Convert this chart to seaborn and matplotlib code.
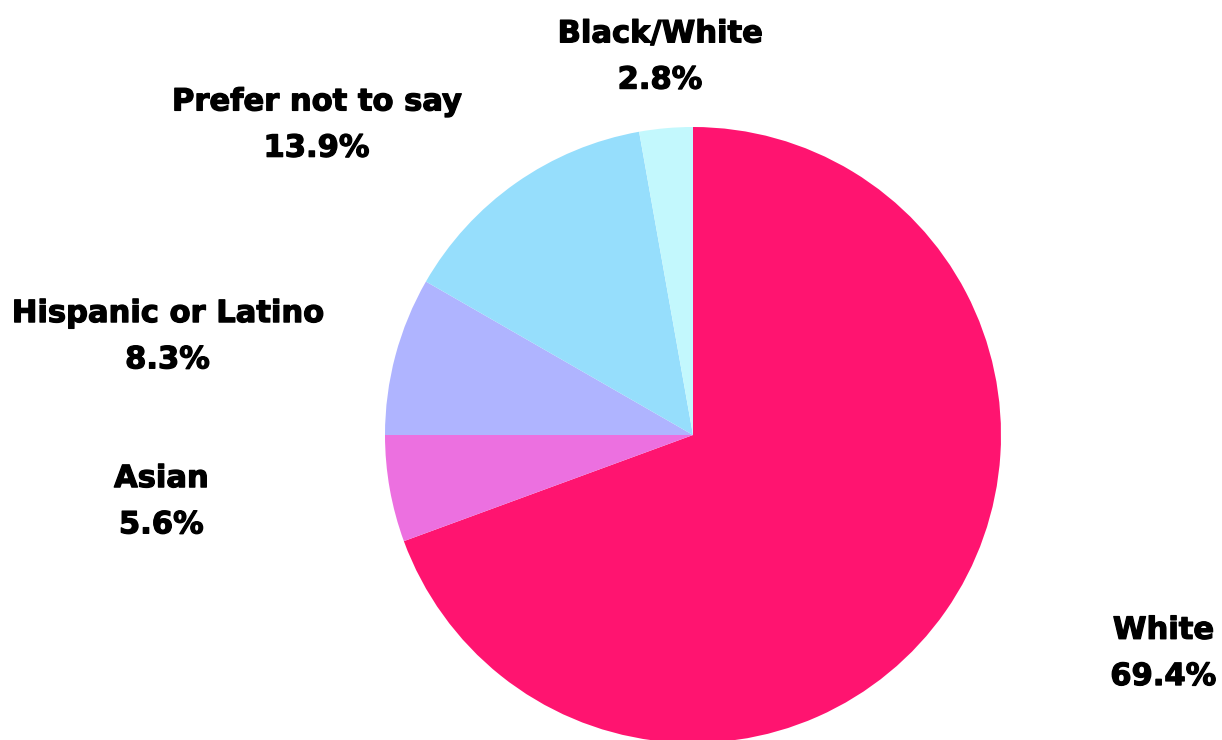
import matplotlib
matplotlib.use("Agg")
import matplotlib.pyplot as plt
import matplotlib.patheffects as pe
import seaborn as sns

# Survey breakdown by ethnicity (share of respondents, %)
categories = ["White", "Asian", "Hispanic or Latino", "Prefer not to say", "Black/White"]
shares = [69.4, 5.6, 8.3, 13.9, 2.8]
colors = ["#FF1470", "#EC70E0", "#AFB4FF", "#96DEFC", "#C3F8FD"]

# Label anchor points in axes-fraction coordinates
label_pos = {
    "White": (0.952, 0.117),
    "Asian": (0.132, 0.322),
    "Hispanic or Latino": (0.137, 0.545),
    "Prefer not to say": (0.259, 0.831),
    "Black/White": (0.540, 0.923),
}

sns.set_theme(style="white")
plt.rcParams["font.family"] = ["DejaVu Sans"]

fig = plt.figure(figsize=(12.22, 7.40), dpi=100)
ax = fig.add_axes([0, 0, 1, 1])

ax.pie(shares, colors=colors, startangle=90, counterclock=False,
       radius=1.0, center=(0, 0), wedgeprops=dict(linewidth=0))

# Place the pie: centre at (693, 435) px, radius 308 px
r_px = 308.0
ax.set_xlim(-693 / r_px, (1222 - 693) / r_px)
ax.set_ylim(-(740 - 435) / r_px, 435 / r_px)
ax.set_aspect("equal")
ax.axis("off")

# A thin outline in the text colour gives the labels a heavier weight
heavy = [pe.withStroke(linewidth=0.9, foreground="#000000")]

for cat, val in zip(categories, shares):
    x, y = label_pos[cat]
    ax.text(x, y, f"{cat}\n{val:.1f}%", transform=ax.transAxes,
            ha="center", va="center", fontsize=22, fontweight="bold",
            color="#000000", linespacing=1.75, path_effects=heavy)

fig.savefig("out.png", dpi=100, facecolor="white")
